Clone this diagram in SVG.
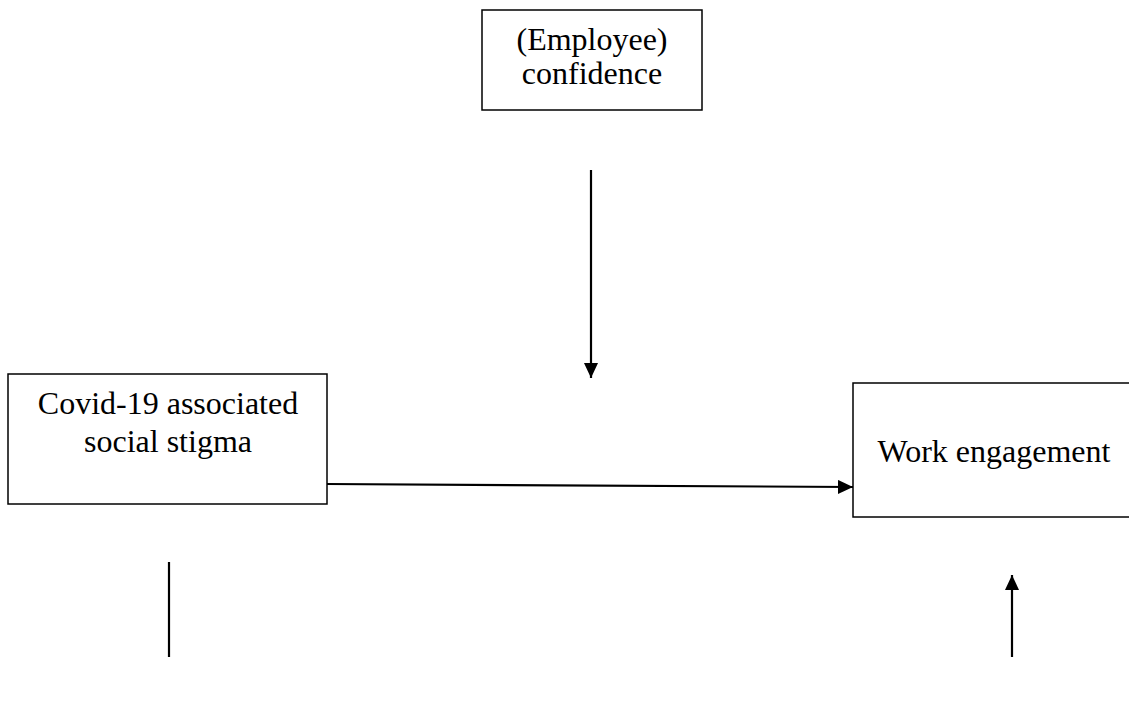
<svg xmlns="http://www.w3.org/2000/svg" width="1129" height="711" viewBox="0 0 1129 711">
<style>
.box{fill:#fff;stroke:#000;stroke-width:1.5}
.t{font-family:"Liberation Serif","Times New Roman",serif;font-size:32px;fill:#000;text-anchor:middle}
.c{stroke:#000;stroke-width:2.2;fill:none}
</style>
<defs>
<marker id="ah" markerWidth="15" markerHeight="14" refX="15" refY="7" orient="auto" markerUnits="userSpaceOnUse">
<path d="M0,0 L15,7 L0,14 Z" fill="#000"/>
</marker>
</defs>
<rect width="1129" height="711" fill="#fff"/>
<g id="confidence">
<rect class="box" x="482" y="10" width="220" height="100"/>
<text class="t" x="592" y="50">(Employee)</text>
<text class="t" x="592" y="84">confidence</text>
</g>
<g id="stigma">
<rect class="box" x="8" y="374" width="319" height="130"/>
<text class="t" x="168" y="414">Covid-19 associated</text>
<text class="t" x="168" y="452">social stigma</text>
</g>
<g id="engagement">
<rect class="box" x="853" y="383" width="290" height="134"/>
<text class="t" x="994" y="462">Work engagement</text>
</g>
<g id="connectors">
<line class="c" x1="327" y1="484" x2="853" y2="487" marker-end="url(#ah)"/>
<line class="c" x1="591" y1="170" x2="591" y2="378" marker-end="url(#ah)"/>
<line class="c" x1="169" y1="562" x2="169" y2="657"/>
<line class="c" x1="1012" y1="657" x2="1012" y2="575" marker-end="url(#ah)"/>
</g>
</svg>
